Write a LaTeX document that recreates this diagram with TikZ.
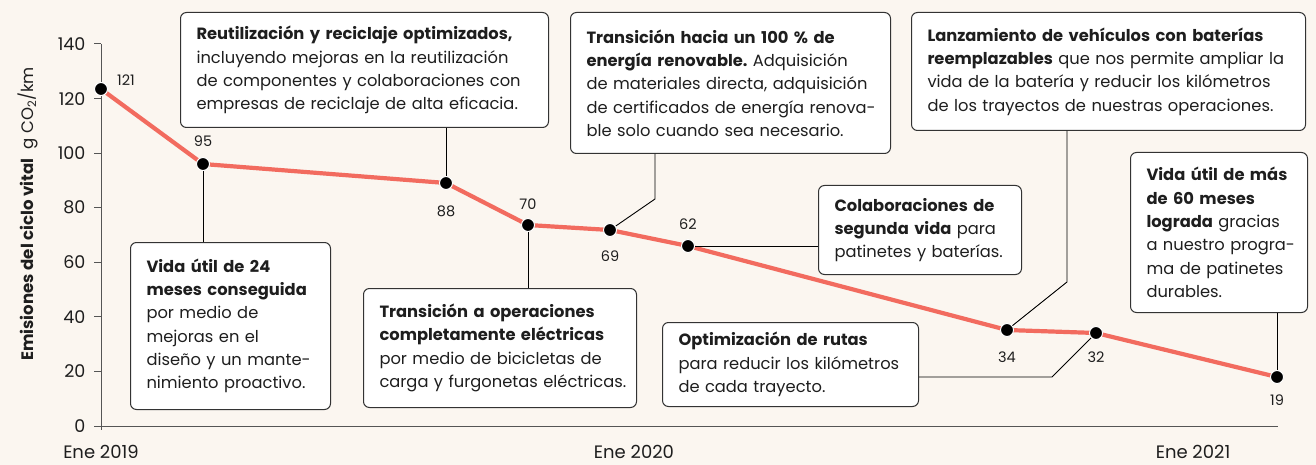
\documentclass[tikz,border=0pt]{standalone}
\usepackage{fontspec}
\setmainfont{Poppins}
\frenchspacing
\newcommand\lnx[1]{\mbox{#1}}
\definecolor{bg}{HTML}{FBF6F0}
\definecolor{dataline}{HTML}{F26B5F}
\definecolor{boxline}{HTML}{333333}
\definecolor{textc}{HTML}{1E1E1E}
\definecolor{axisc}{HTML}{555555}
\tikzset{
  box/.style={draw=boxline, fill=white, rounded corners=6pt, line width=1pt,
    align=left, inner xsep=16pt, inner ysep=0pt, text=textc,
    font=\fontsize{16.3}{23.3}\selectfont},
  conn/.style={draw=black, line width=0.9pt},
  dotn/.style={circle, fill=black, draw=white, line width=1pt, minimum size=13pt, inner sep=0pt},
  val/.style={font=\fontsize{14.5}{16}\selectfont, text=textc},
  ticklab/.style={font=\fontsize{17.5}{18}\selectfont, anchor=east, text=textc},
  xlab/.style={font=\fontsize{18}{19}\selectfont, text=textc},
  axisl/.style={draw=axisc, line width=1pt},
  data/.style={draw=dataline, line width=4.2pt, line join=round},
}
\begin{document}
\begin{tikzpicture}[x=1pt,y=-1pt]
\useasboundingbox (0,0) rectangle (1316,465);
\fill[bg] (0,0) rectangle (1316,465);

% axes
\draw[axisl] (101,44) -- (101,430);
\draw[axisl] (97,426) -- (1278,426);
\foreach \v/\yy in {140/44,120/98.6,100/153.1,80/207.7,60/262.3,40/316.9,20/371.4,0/426} {
  \draw[axisl] (94,\yy) -- (101,\yy);
  \node[ticklab] (t\v) at (89,\yy) {\v};
}
\node[xlab] (x2019) at (101,452) {Ene 2019};
\node[xlab] (x2020) at (634,452) {Ene 2020};
\node[xlab] (x2021) at (1193,452) {Ene 2021};
\node[rotate=90, text=textc, font=\fontsize{16.6}{18}\selectfont] (ytitle) at (28,214)
  {\textbf{Emisiones del ciclo vital}\ \ g CO\textsubscript{2}/km};

% data coordinates
\coordinate (c1) at (101,89);
\coordinate (c2) at (203,164);
\coordinate (c3) at (446,183);
\coordinate (c4) at (528,225);
\coordinate (c5) at (610,230);
\coordinate (c6) at (688,246);
\coordinate (c7) at (1007,330);
\coordinate (c8) at (1096,333);
\coordinate (c9) at (1277,377);

% boxes
\node[box, anchor=north west, text width=336pt, minimum height=115pt] (b1) at (180,12) {%
\lnx{\textbf{Reutilización y reciclaje optimizados,}}\\
\lnx{incluyendo mejoras en la reutilización}\\
\lnx{de componentes y colaboraciones con}\\
\lnx{empresas de reciclaje de alta eficacia.}};
\node[box, anchor=north west, text width=168pt, minimum height=167pt] (b2) at (130,242) {%
\lnx{\textbf{Vida útil de 24}}\\
\lnx{\textbf{meses conseguida}}\\
\lnx{por medio de}\\
\lnx{mejoras en el}\\
\lnx{diseño y un mante-}\\
\lnx{nimiento proactivo.}};
\node[box, anchor=north west, text width=241pt, minimum height=119pt] (b3) at (363,288) {%
\lnx{\textbf{Transición a operaciones}}\\
\lnx{\textbf{completamente eléctricas}}\\
\lnx{por medio de bicicletas de}\\
\lnx{carga y furgonetas eléctricas.}};
\node[box, anchor=north west, text width=288pt, minimum height=141pt] (b4) at (570,12) {%
\lnx{\textbf{Transición hacia un 100 \% de}}\\
\lnx{\textbf{energía renovable.} Adquisición}\\
\lnx{de materiales directa, adquisición}\\
\lnx{de certificados de energía renova-}\\
\lnx{ble solo cuando sea necesario.}};
\node[box, anchor=north west, text width=362pt, minimum height=118pt] (b5) at (911,12) {%
\lnx{\textbf{Lanzamiento de vehículos con baterías}}\\
\lnx{\textbf{reemplazables} que nos permite ampliar la}\\
\lnx{vida de la batería y reducir los kilómetros}\\
\lnx{de los trayectos de nuestras operaciones.}};
\node[box, anchor=north west, text width=171pt, minimum height=89pt] (b6) at (818,185) {%
\lnx{\textbf{Colaboraciones de}}\\
\lnx{\textbf{segunda vida} para}\\
\lnx{patinetes y baterías.}};
\node[box, anchor=north west, text width=224pt, minimum height=84pt] (b7) at (662,322) {%
\lnx{\textbf{Optimización de rutas}}\\
\lnx{para reducir los kilómetros}\\
\lnx{de cada trayecto.}};
\node[box, anchor=north west, text width=145pt, minimum height=160pt] (b8) at (1130,152) {%
\lnx{\textbf{Vida útil de más}}\\
\lnx{\textbf{de 60 meses}}\\
\lnx{\textbf{lograda} gracias}\\
\lnx{a nuestro progra-}\\
\lnx{ma de patinetes}\\
\lnx{durables.}};

% data line
\draw[data] (c1) -- (c2) -- (c3) -- (c4) -- (c5) -- (c6) -- (c7) -- (c8) -- (c9);

% dots
\foreach \i in {1,...,9} { \node[dotn] (d\i) at (c\i) {}; }

% connectors
\coordinate (k4) at (655,199);
\coordinate (k5) at (1067,282);
\coordinate (k7) at (1052,377);
\draw[conn] (d2) -- (d2 |- b2.north);
\draw[conn] (d3) -- (d3 |- b1.south);
\draw[conn] (d4) -- (d4 |- b3.north);
\draw[conn] (d5) -- (k4) -- (k4 |- b4.south);
\draw[conn] (d6) -- (d6 -| b6.west);
\draw[conn] (d7) -- (k5) -- (k5 |- b5.south);
\draw[conn] (b7.east |- k7) -- (k7) -- (d8);
\draw[conn] (d9) -- (d9 |- b8.south);

% value labels
\node[val] (v1) at (126,80) {121};
\node[val] (v2) at (203,141) {95};
\node[val] (v3) at (446,211) {88};
\node[val] (v4) at (528,204) {70};
\node[val] (v5) at (610,256) {69};
\node[val] (v6) at (688,224) {62};
\node[val] (v7) at (1007,357) {34};
\node[val] (v8) at (1096,357) {32};
\node[val] (v9) at (1277,400) {19};
\end{tikzpicture}
\end{document}
